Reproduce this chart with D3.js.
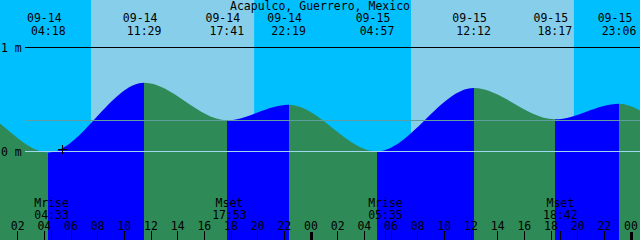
<!DOCTYPE html>
<html>
<head>
<meta charset="utf-8">
<script src="https://cdn.jsdelivr.net/npm/d3@7"></script>
<style>
  body { margin: 0; background: #fff; }
  svg { display: block; }
  text { font-family: "DejaVu Sans Mono", monospace; font-size: 11.5px; fill: #000; }
</style>
</head>
<body>
<svg id="chart" width="640" height="240"></svg>
<script>
// high / low tides (local time). first two and last two are off the window, only there so the curve enters and leaves right
var tideTimes = ["2006-09-13T16:40", "2006-09-13T22:03", "2006-09-14T04:18", "2006-09-14T11:29", "2006-09-14T17:41",
                 "2006-09-14T22:19", "2006-09-15T04:57", "2006-09-15T12:12", "2006-09-15T18:17", "2006-09-15T23:06",
                 "2006-09-16T05:40", "2006-09-16T12:50"];
var tideLevels = [0.29, 0.44, -0.01, 0.66, 0.30, 0.45, 0.00, 0.61, 0.31, 0.46, 0.00, 0.60];

// sunrise / sunset
var sunRise = ["2006-09-14T07:30", "2006-09-15T07:30"];
var sunSet = ["2006-09-14T19:44", "2006-09-15T19:43"];

// moon events
var moonNames = ["Mrise", "Mset", "Mrise", "Mset"];
var moonTimes = ["2006-09-14T04:33", "2006-09-14T17:53", "2006-09-15T05:35", "2006-09-15T18:42"];

// level lines (m)
var levelTicks = [1, 0];
var levelLabels = ["1 m", "0 m"];
var meanLevel = 0.30;

// the little cross near the first low
var markTime = "2006-09-14T05:20";
var markLevel = 0.02;

var title = "Acapulco, Guerrero, Mexico";

var W = 640, H = 240;
var parse = d3.utcParse("%Y-%m-%dT%H:%M");
var fmtDate = d3.utcFormat("%m-%d"),
    fmtTime = d3.utcFormat("%H:%M"),
    fmtHour = d3.utcFormat("%H");

var tides = tideTimes.map(function (t, i) { return { t: parse(t), v: tideLevels[i] }; });

var x = d3.scaleUtc()
    .domain([parse("2006-09-14T00:00"), parse("2006-09-16T00:00")])
    .range([-9, 631]);
var y = d3.scaleLinear().domain([0, 1]).range([151.5, 47.5]);

// snap to pixel centre so 1px lines stay sharp
function px(v) { return Math.floor(v) + 0.5; }

var svg = d3.select("#chart");

// night then day background
svg.append("rect").attr("width", W).attr("height", H).attr("fill", "#00bfff");
svg.selectAll("rect.day").data(sunRise).enter().append("rect")
    .attr("class", "day")
    .attr("x", function (d) { return x(parse(d)); })
    .attr("width", function (d, i) { return x(parse(sunSet[i])) - x(parse(d)); })
    .attr("y", 0).attr("height", H)
    .attr("fill", "#87ceeb");

// tide area used as a clip, then rising (blue) / falling (green) pieces
var area = d3.area()
    .x(function (d) { return x(d.t); })
    .y0(H)
    .y1(function (d) { return y(d.v); })
    .curve(d3.curveMonotoneX);

svg.append("clipPath").attr("id", "tideClip")
  .append("path").attr("d", area(tides));

var pieces = d3.pairs(tides);
svg.append("g").attr("clip-path", "url(#tideClip)")
  .selectAll("rect").data(pieces).enter().append("rect")
    .attr("x", function (d) { return x(d[0].t); })
    .attr("width", function (d) { return x(d[1].t) - x(d[0].t); })
    .attr("y", 0).attr("height", H)
    .attr("fill", function (d) { return d[1].v > d[0].v ? "#0000ff" : "#2e8b57"; })
    .attr("shape-rendering", "crispEdges");

// level lines
svg.append("line")
    .attr("x1", 25).attr("x2", W)
    .attr("y1", px(y(meanLevel))).attr("y2", px(y(meanLevel)))
    .attr("stroke", "#5f9ea0");
svg.selectAll("line.lvl").data(levelTicks).enter().append("line")
    .attr("class", "lvl")
    .attr("x1", 25).attr("x2", W)
    .attr("y1", function (d) { return px(y(d)); })
    .attr("y2", function (d) { return px(y(d)); })
    .attr("stroke", function (d) { return d === 0 ? "#9fd6f0" : "#000"; });
svg.selectAll("text.lvl").data(levelTicks).enter().append("text")
    .attr("class", "lvl")
    .attr("x", 1).attr("y", function (d) { return y(d) + 4; })
    .text(function (d, i) { return levelLabels[i]; });

// cross
var mx = px(x(parse(markTime))), my = px(y(markLevel));
svg.append("path")
    .attr("d", "M" + (mx - 4.5) + "," + my + "H" + (mx + 4.5) + "M" + mx + "," + (my - 4.5) + "V" + (my + 4.5))
    .attr("stroke", "#000").attr("fill", "none");

// title
svg.append("text").attr("x", W / 2).attr("y", 10).attr("text-anchor", "middle").text(title);

// high / low labels along the top
var shown = tides.filter(function (d) { return x(d.t) >= 0 && x(d.t) <= W; });
var hiLo = svg.append("g").selectAll("g").data(shown).enter().append("g");
hiLo.append("text")
    .attr("x", function (d) { return x(d.t) - 4; }).attr("y", 22)
    .attr("text-anchor", "middle")
    .text(function (d) { return fmtDate(d.t); });
hiLo.append("text")
    .attr("x", function (d) { return x(d.t); }).attr("y", 34.5)
    .attr("text-anchor", "middle")
    .text(function (d) { return fmtTime(d.t); });

// moon events
var moon = moonTimes.map(function (t, i) { return { t: parse(t), name: moonNames[i] }; });
var mg = svg.append("g").selectAll("g").data(moon).enter().append("g");
mg.append("text")
    .attr("x", function (d) { return x(d.t); }).attr("y", 207)
    .attr("text-anchor", "middle")
    .text(function (d) { return d.name; });
mg.append("text")
    .attr("x", function (d) { return x(d.t); }).attr("y", 218.5)
    .attr("text-anchor", "middle")
    .text(function (d) { return fmtTime(d.t); });
mg.append("line")
    .attr("x1", function (d) { return px(x(d.t)); }).attr("x2", function (d) { return px(x(d.t)); })
    .attr("y1", 231).attr("y2", H)
    .attr("stroke", "#000");

// hour axis at the bottom (the midnight before the window is off screen)
var hours = x.ticks(d3.utcHour.every(2)).filter(function (d) { return x(d) >= 0; });
var hg = svg.append("g").selectAll("g").data(hours).enter().append("g");
hg.append("text")
    .attr("x", function (d) { return x(d); }).attr("y", 229.5)
    .attr("text-anchor", "middle")
    .text(function (d) { return fmtHour(d); });
hg.append("rect")
    .attr("x", function (d) { return d.getUTCHours() === 0 ? Math.floor(x(d)) - 1 : Math.floor(x(d)); })
    .attr("width", function (d) { return d.getUTCHours() === 0 ? 3 : 1; })
    .attr("y", function (d) { return d.getUTCHours() === 0 ? 232 : 231; })
    .attr("height", function (d) { return d.getUTCHours() === 0 ? 8 : 9; })
    .attr("fill", "#000");
</script>
</body>
</html>
